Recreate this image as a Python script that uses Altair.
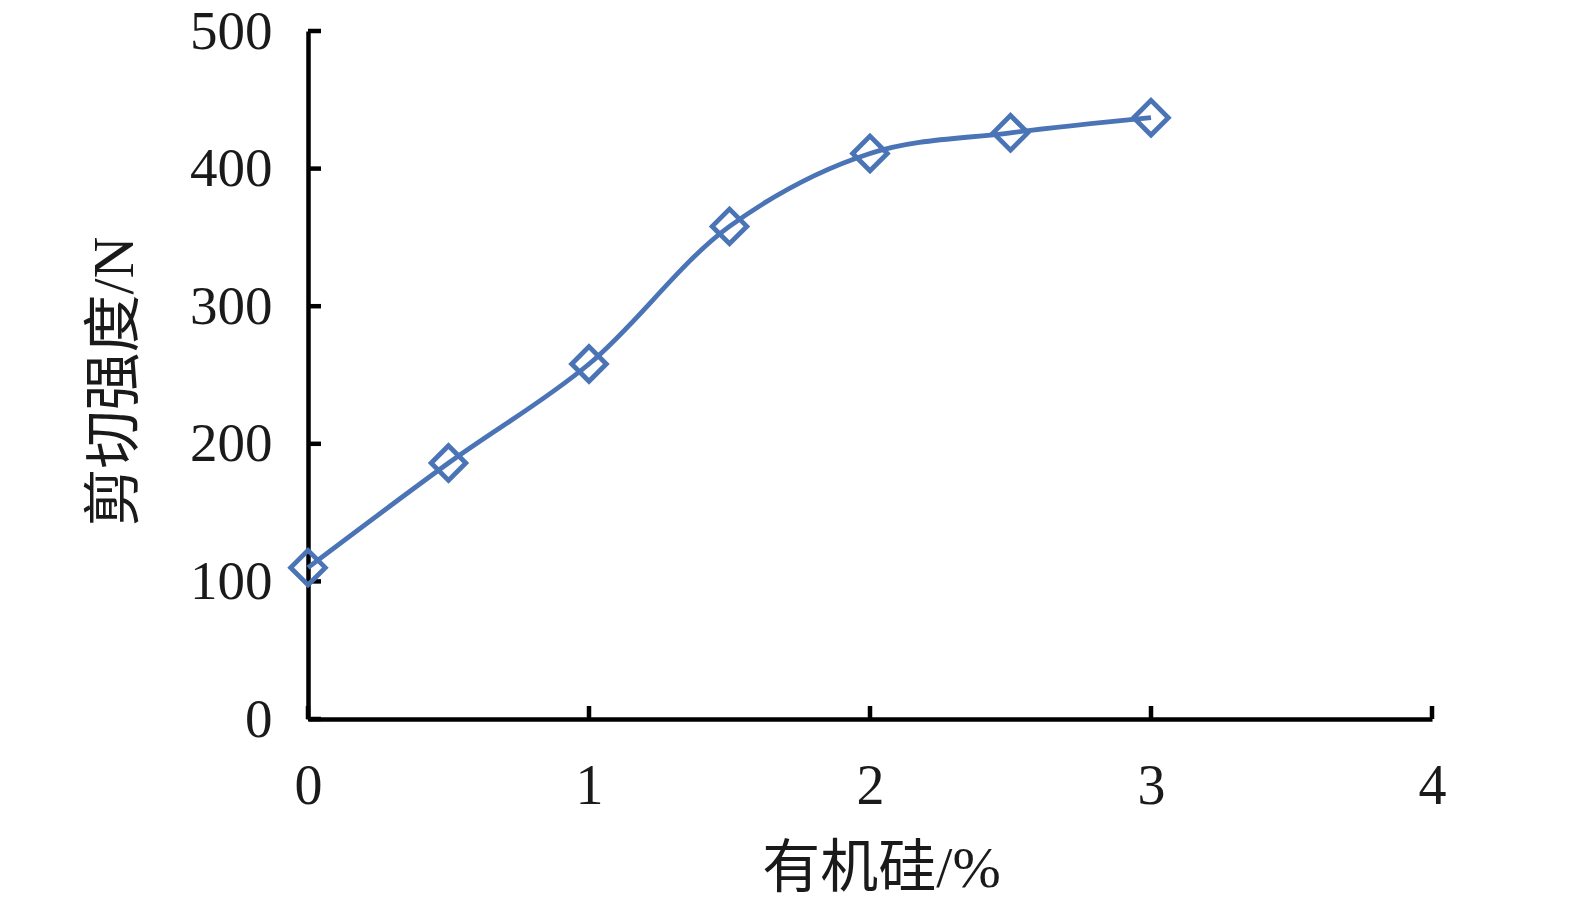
import altair as alt
import pandas as pd

x_vals = [0, 0.5, 1, 1.5, 2, 2.5, 3]
y_vals = [110, 186, 258, 358, 411, 426, 437]
x_ticks = [0, 1, 2, 3, 4]
y_ticks = [0, 100, 200, 300, 400, 500]

df = pd.DataFrame({"x": x_vals, "y": y_vals})
xt = pd.DataFrame({"t": x_ticks})
yt = pd.DataFrame({"t": y_ticks})

W, H = 1124, 688
COLOR = "#4A74B5"
FONT = "Liberation Serif, Noto Sans CJK SC"

xscale = alt.Scale(domain=[0, 4], nice=False, zero=False)
yscale = alt.Scale(domain=[0, 500], nice=False)

base = alt.Chart(df)

line = base.mark_line(interpolate="catmull-rom", color=COLOR, strokeWidth=4.8).encode(
    x=alt.X("x:Q", scale=xscale, axis=alt.Axis(
        values=x_ticks, format="d", ticks=False, grid=False, domainColor="black", domainWidth=4.5,
        labelFont=FONT, labelFontSize=56, labelColor="#1a1a1a", labelPadding=40,
        labelBaseline="top", labelFlush=False,
        title="有机硅/%", titleFont=FONT, titleFontSize=58, titleFontWeight="normal",
        titleColor="#1a1a1a", titleX=573, titleY=150, titleBaseline="middle", titleAlign="center")),
    y=alt.Y("y:Q", scale=yscale, axis=alt.Axis(
        values=y_ticks, format="d", ticks=False, grid=False, domainColor="black", domainWidth=4.5,
        labelFont=FONT, labelFontSize=55, labelColor="#1a1a1a", labelPadding=36,
        labelFlush=False, labelBaseline="middle",
        title="剪切强度/N", titleFont=FONT, titleFontSize=58, titleFontWeight="normal",
        titleColor="#1a1a1a", titleX=-193, titleY=350, titleAngle=-90,
        titleBaseline="middle", titleAlign="center")),
)

pts = base.mark_point(shape="diamond", size=1200, filled=False, color=COLOR,
                      strokeWidth=4.8, opacity=1).encode(
    x=alt.X("x:Q", scale=xscale), y=alt.Y("y:Q", scale=yscale))

ytick_marks = alt.Chart(yt).mark_rule(color="black", strokeWidth=4.5).encode(
    y=alt.Y("t:Q", scale=yscale), x=alt.value(0), x2=alt.value(13))
xtick_marks = alt.Chart(xt).mark_rule(color="black", strokeWidth=4.5).encode(
    x=alt.X("t:Q", scale=xscale), y=alt.value(H), y2=alt.value(H - 13))

chart = alt.layer(ytick_marks, xtick_marks, line, pts).properties(
    width=W, height=H,
    padding={"left": 300, "top": 23, "right": 120, "bottom": 190},
    autosize=alt.AutoSizeParams(type="none"),
).configure(background="white").configure_view(stroke=None, strokeWidth=0)

chart.save("out.html", embed_options={"renderer": "svg", "actions": False})
